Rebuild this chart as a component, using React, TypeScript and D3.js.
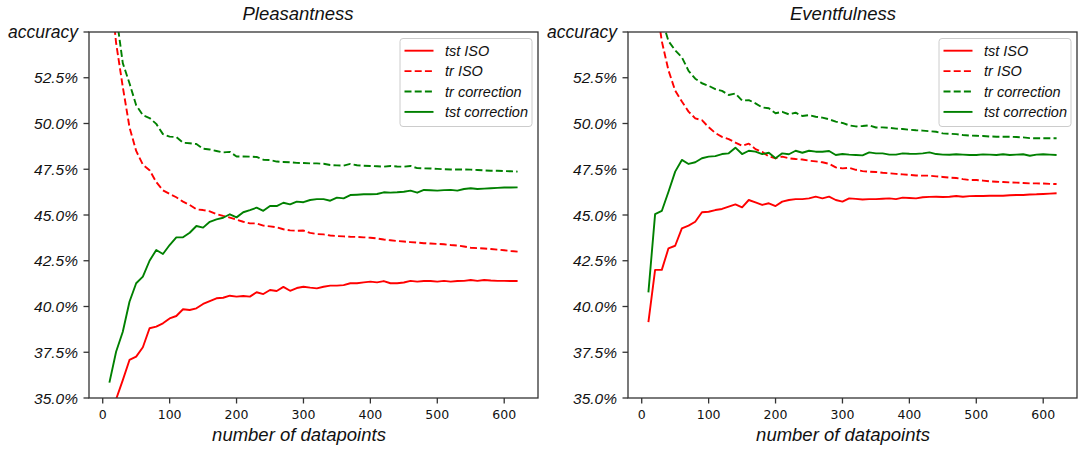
import React from "react";
import * as d3 from "d3";

const datapoints = [10,20,30,40,50,60,70,80,90,100,110,120,130,140,150,160,170,180,190,200,210,220,230,240,250,260,270,280,290,300,310,320,330,340,350,360,370,380,390,400,410,420,430,440,450,460,470,480,490,500,510,520,530,540,550,560,570,580,590,600,610,620];

const yTickValues = [35, 37.5, 40, 42.5, 45, 47.5, 50, 52.5, 55];
const yTickLabels = ["35.0%", "37.5%", "40.0%", "42.5%", "45.0%", "47.5%", "50.0%", "52.5%", "accuracy"];
const xTickValues = [0, 100, 200, 300, 400, 500, 600];

const panelTitles = ["Pleasantness", "Eventfulness"];
const seriesNames = ["tst ISO", "tr ISO", "tr correction", "tst correction"];

// Pleasantness
const pleasTstISO = [33.9,34.93,35.98,37.08,37.26,37.77,38.81,38.9,39.08,39.35,39.48,39.85,39.81,39.9,40.14,40.3,40.45,40.48,40.59,40.54,40.57,40.54,40.78,40.68,40.9,40.85,41.07,40.86,41.01,41.08,41.03,40.99,41.08,41.14,41.14,41.17,41.27,41.27,41.32,41.36,41.32,41.39,41.27,41.27,41.31,41.4,41.36,41.39,41.39,41.36,41.4,41.36,41.39,41.4,41.45,41.4,41.45,41.42,41.4,41.4,41.39,41.39];
const pleasTrISO = [58.0,54.4,52.0,49.8,48.5,47.75,47.45,46.8,46.35,46.15,45.97,45.73,45.55,45.31,45.27,45.2,45.05,44.95,44.86,44.75,44.63,44.54,44.54,44.42,44.38,44.33,44.22,44.16,44.14,44.15,44.02,43.96,43.94,43.88,43.85,43.83,43.81,43.8,43.78,43.76,43.72,43.66,43.62,43.58,43.55,43.52,43.49,43.46,43.44,43.42,43.4,43.36,43.33,43.28,43.21,43.19,43.17,43.14,43.11,43.07,43.03,43.0];
const pleasTrCorr = [59.0,56.0,53.3,52.2,51.0,50.45,50.3,49.98,49.42,49.28,49.26,48.95,48.92,48.88,48.62,48.58,48.5,48.42,48.45,48.2,48.2,48.19,48.17,48.02,48.0,47.92,47.9,47.88,47.85,47.84,47.82,47.82,47.8,47.73,47.71,47.7,47.79,47.72,47.69,47.68,47.66,47.64,47.68,47.65,47.64,47.68,47.56,47.55,47.54,47.52,47.5,47.49,47.49,47.49,47.48,47.46,47.44,47.42,47.42,47.4,47.39,47.37];
const pleasTstCorr = [35.84,37.53,38.62,40.26,41.27,41.63,42.5,43.09,42.87,43.36,43.78,43.78,44.03,44.4,44.31,44.63,44.76,44.85,45.04,44.87,45.15,45.27,45.4,45.23,45.49,45.49,45.67,45.58,45.73,45.7,45.82,45.87,45.87,45.78,45.95,45.91,46.09,46.11,46.13,46.13,46.15,46.24,46.22,46.24,46.27,46.33,46.22,46.37,46.35,46.33,46.36,46.37,46.33,46.42,46.46,46.42,46.44,46.46,46.48,46.5,46.5,46.51];

// Eventfulness
const eventTstISO = [39.14,42.0,42.0,43.18,43.32,44.27,44.42,44.63,45.15,45.18,45.27,45.33,45.46,45.58,45.42,45.82,45.69,45.55,45.64,45.49,45.73,45.82,45.87,45.87,45.91,46.0,45.91,46.0,45.82,45.73,45.91,45.88,45.85,45.87,45.87,45.89,45.91,45.87,45.95,45.93,45.91,45.97,45.99,46.0,45.98,46.0,46.04,46.0,46.03,46.04,46.04,46.05,46.05,46.05,46.08,46.09,46.09,46.12,46.13,46.15,46.17,46.19];
const eventTrISO = [60.0,57.0,54.5,52.9,51.8,51.2,50.65,50.28,50.18,49.8,49.48,49.27,49.15,48.96,48.78,48.9,48.6,48.45,48.2,48.1,48.19,48.1,48.06,48.03,47.97,47.93,47.88,47.8,47.6,47.55,47.58,47.47,47.4,47.37,47.35,47.31,47.28,47.25,47.22,47.19,47.16,47.15,47.15,47.11,47.08,47.04,47.02,46.96,46.91,46.91,46.88,46.84,46.82,46.8,46.78,46.77,46.75,46.73,46.73,46.72,46.7,46.69];
const eventTrCorr = [61.0,58.0,55.7,54.5,54.0,53.62,52.88,52.45,52.2,52.06,51.88,51.78,51.56,51.64,51.25,51.28,51.1,50.88,50.83,50.56,50.64,50.5,50.59,50.41,50.46,50.37,50.32,50.23,50.1,50.03,49.9,49.84,49.86,49.9,49.78,49.79,49.76,49.72,49.7,49.66,49.63,49.61,49.58,49.55,49.46,49.44,49.42,49.37,49.34,49.33,49.32,49.29,49.28,49.28,49.28,49.26,49.24,49.2,49.19,49.19,49.19,49.19];
const eventTstCorr = [40.77,45.05,45.22,46.27,47.37,48.01,47.79,47.88,48.1,48.19,48.22,48.33,48.37,48.68,48.33,48.51,48.46,48.33,48.4,48.1,48.37,48.32,48.51,48.4,48.51,48.46,48.46,48.5,48.28,48.33,48.3,48.28,48.26,48.42,48.37,48.37,48.3,48.3,48.37,48.35,48.34,48.37,48.42,48.33,48.3,48.29,48.32,48.3,48.28,48.28,48.31,48.3,48.28,48.32,48.28,48.3,48.32,48.24,48.3,48.32,48.3,48.28];

const RED = "#ff0000";
const GREEN = "#008000";
const styles = [
  { color: RED, dash: "" },
  { color: RED, dash: "7,3.2" },
  { color: GREEN, dash: "7,3.2" },
  { color: GREEN, dash: "" },
];

const panels = [
  { title: panelTitles[0], left: 89, right: 538, titleX: 298, labelX: 299, series: [pleasTstISO, pleasTrISO, pleasTrCorr, pleasTstCorr] },
  { title: panelTitles[1], left: 628, right: 1077, titleX: 843, labelX: 843, series: [eventTstISO, eventTrISO, eventTrCorr, eventTstCorr] },
];

const TOP = 32;
const BOTTOM = 398;
const SANS = "'Liberation Sans', Arial, Helvetica, sans-serif";
const TICKFONT = "'DejaVu Sans', sans-serif";
const AXIS = "#333333";
const LW = 1.9;

function Panel({ p, idx }: { p: any; idx: number }) {
  const x = d3.scaleLinear().domain([-20.5, 650.5]).range([p.left, p.right]);
  const y = d3.scaleLinear().domain([35, 55]).range([BOTTOM, TOP]);
  const line = d3
    .line<number>()
    .x((_, i) => x(datapoints[i]))
    .y((d) => y(d));
  const clipId = `clip-${idx}`;
  const lgRight = p.right - 6;
  const lgLeft = lgRight - 132;
  const lgTop = 38.5;
  return (
    <g>
      <defs>
        <clipPath id={clipId}>
          <rect x={p.left} y={TOP} width={p.right - p.left} height={BOTTOM - TOP} />
        </clipPath>
      </defs>
      <text x={p.titleX} y={20} textAnchor="middle" fontFamily={SANS} fontStyle="italic" fontSize={18.5} fill="#111">
        {p.title}
      </text>
      <g clipPath={`url(#${clipId})`}>
        {p.series.map((s: number[], i: number) => (
          <path
            key={i}
            d={line(s) || ""}
            fill="none"
            stroke={styles[i].color}
            strokeWidth={LW}
            strokeDasharray={styles[i].dash || undefined}
            strokeLinejoin="round"
          />
        ))}
      </g>
      <rect x={p.left} y={TOP} width={p.right - p.left} height={BOTTOM - TOP} fill="none" stroke={AXIS} strokeWidth={1.3} />
      {yTickValues.map((v, i) => (
        <g key={`y${i}`}>
          <line x1={p.left - 5.5} x2={p.left} y1={y(v)} y2={y(v)} stroke={AXIS} strokeWidth={1.3} />
          <text
            x={p.left - 11}
            y={y(v)}
            dy="0.36em"
            textAnchor="end"
            fontFamily={SANS}
            fontStyle="italic"
            fontSize={i === yTickValues.length - 1 ? 17.5 : 15.5}
            fill="#111"
          >
            {yTickLabels[i]}
          </text>
        </g>
      ))}
      {xTickValues.map((v) => (
        <g key={`x${v}`}>
          <line x1={x(v)} x2={x(v)} y1={BOTTOM} y2={BOTTOM + 5.5} stroke={AXIS} strokeWidth={1.3} />
          <text x={x(v)} y={419} textAnchor="middle" fontFamily={TICKFONT} fontSize={12.5} fill="#111">
            {v}
          </text>
        </g>
      ))}
      <text x={p.labelX} y={441} textAnchor="middle" fontFamily={SANS} fontStyle="italic" fontSize={18.5} fill="#111">
        number of datapoints
      </text>
      <rect x={lgLeft} y={lgTop} width={lgRight - lgLeft} height={88} rx={3} fill="#fff" fillOpacity={0.8} stroke="#cccccc" strokeWidth={1} />
      {seriesNames.map((name, i) => {
        const ry = 50.7 + i * 20.4;
        return (
          <g key={name}>
            <line
              x1={lgLeft + 4.5}
              x2={lgLeft + 33.5}
              y1={ry}
              y2={ry}
              stroke={styles[i].color}
              strokeWidth={LW}
              strokeDasharray={styles[i].dash || undefined}
            />
            <text x={lgLeft + 45} y={ry} dy="0.36em" fontFamily={SANS} fontStyle="italic" fontSize={14.5} fill="#111">
              {name}
            </text>
          </g>
        );
      })}
    </g>
  );
}

export default function App() {
  return (
    <svg
      width={1084}
      height={454}
      viewBox="0 0 1084 454"
      style={{ position: "absolute", left: 0, top: 0, background: "#fff" }}
    >
      <rect x={0} y={0} width={1084} height={454} fill="#fff" />
      {panels.map((p, i) => (
        <Panel key={i} p={p} idx={i} />
      ))}
    </svg>
  );
}
